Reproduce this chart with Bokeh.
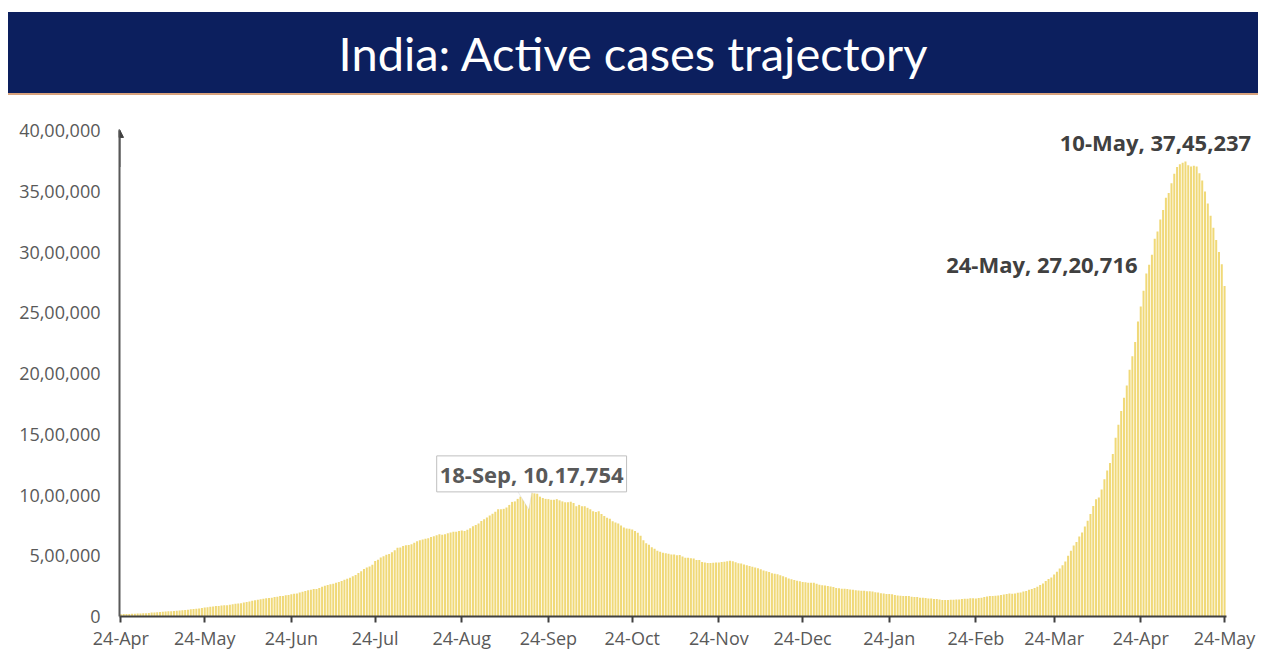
import pandas as pd
from bokeh.plotting import figure
from bokeh.models import (Label, FixedTicker, DatetimeTickFormatter, Range1d, Arrow,
                          NormalHead, PolyAnnotation, ColumnDataSource, Spacer, Div)
from bokeh.layouts import column
from bokeh.embed import file_html
from bokeh.resources import INLINE

# ---------------- data (active cases, in thousands) ----------------
apr_2020 = [18.7, 20.2, 20.8, 21.1, 22.0, 22.6, 23.7]
may_2020 = [25.0, 26.5, 27.6, 29.5, 32.1, 33.6, 35.9, 37.9, 39.8, 41.5, 43.0, 44.0, 46.0, 47.5, 49.2, 51.4,
            53.0, 56.3, 58.8, 61.1, 63.6, 66.3, 69.6, 73.6, 77.1, 80.7, 83.0, 86.1, 86.4, 89.9, 91.8]
jun_2020 = [93.3, 97.6, 101.5, 104.1, 106.7, 110.0, 115.9, 120.4, 124.0, 129.9, 133.6, 137.4, 141.8, 145.8,
            149.3, 153.1, 155.2, 160.4, 163.2, 168.3, 169.5, 174.4, 178.0, 183.0, 186.5, 189.5, 197.4, 203.1,
            210.1, 215.1]
jul_2020 = [220.1, 226.9, 227.4, 235.4, 244.8, 253.3, 259.6, 264.9, 269.8, 276.9, 283.4, 292.3, 301.6, 311.6,
            319.8, 331.1, 342.5, 358.7, 373.4, 390.5, 402.5, 411.1, 426.2, 456.1, 467.9, 485.1, 496.9, 509.4,
            514.2, 528.2, 545.3]
aug_2020 = [565.1, 567.7, 579.4, 586.3, 587.7, 595.5, 607.4, 619.1, 628.7, 634.9, 639.9, 643.9, 653.6, 661.6,
            668.2, 676.9, 673.2, 676.5, 686.4, 692.0, 697.3, 697.3, 704.3, 707.3, 704.3, 715.0, 725.9, 742.0,
            752.4, 765.3, 785.9]
sep_2020 = [801.3, 815.5, 831.1, 846.4, 862.3, 883.7, 882.5, 886.3, 897.4, 919.0, 943.5, 947.6, 968.4, 986.6,
            990.1, 995.9, 1009.9, 1017.754, 1013.9, 1010.8, 986.6, 975.9, 968.4, 966.4, 960.9, 960.9, 966.4,
            956.4, 947.6, 940.4]
oct_2020 = [940.7, 944.9, 934.4, 907.9, 919.0, 907.9, 907.9, 895.0, 883.2, 867.5, 860.6, 866.0, 844.3, 826.9,
            812.4, 804.5, 783.3, 774.6, 766.3, 748.5, 733.0, 725.4, 721.8, 715.8, 704.1, 690.2, 664.1, 627.1,
            603.1, 589.8, 570.5]
nov_2020 = [558.1, 541.4, 533.8, 525.2, 520.3, 516.6, 510.7, 509.7, 503.8, 505.3, 494.7, 484.5, 483.0, 479.2,
            477.6, 465.5, 465.5, 448.1, 445.0, 439.7, 440.9, 443.3, 444.7, 443.8, 447.8, 451.0, 454.9, 459.0,
            455.5, 445.7]
dec_2020 = [438.7, 435.6, 428.6, 422.9, 416.1, 410.1, 403.2, 396.7, 389.0, 378.9, 372.3, 365.4, 356.5, 352.6,
            347.6, 339.8, 332.0, 322.4, 313.8, 307.0, 300.0, 293.9, 289.2, 283.8, 281.9, 278.7, 277.3, 277.8,
            270.5, 262.3, 257.7]
jan_2021 = [254.3, 250.2, 247.2, 243.9, 235.6, 232.2, 228.1, 228.1, 225.4, 222.5, 220.7, 216.6, 214.5, 213.0,
            211.0, 208.8, 208.0, 206.8, 200.5, 197.2, 190.7, 188.7, 185.6, 184.4, 184.2, 177.3, 173.7, 171.7,
            169.8, 168.2, 168.2]
feb_2021 = [163.4, 160.1, 160.1, 155.0, 154.9, 151.5, 148.6, 148.6, 143.6, 143.1, 140.9, 135.9, 136.5, 136.5,
            137.6, 138.6, 139.5, 139.5, 143.1, 145.6, 145.6, 150.1, 150.1, 147.3, 151.7, 155.0, 159.6, 164.5]
mar_2021 = [168.4, 168.2, 170.1, 173.4, 176.3, 180.3, 184.6, 188.7, 187.5, 189.2, 195.2, 196.6, 206.0, 210.5,
            219.3, 226.2, 234.4, 245.4, 260.0, 271.3, 292.3, 309.1, 321.2, 345.4, 368.5, 395.2, 421.1, 452.6,
            501.0, 540.7, 584.1]
apr_2021 = [614.0, 658.9, 691.6, 740.7, 788.2, 843.5, 910.3, 964.8, 979.6, 1046.6, 1129.9, 1201.0, 1264.7,
            1338.8, 1471.9, 1579.0, 1692.6, 1801.3, 1901.9, 2031.0, 2143.0, 2260.0, 2428.6, 2552.9, 2682.7,
            2823.0, 2896.8, 2978.7, 3110.0, 3170.2]
may_2021 = [3268.7, 3347.2, 3447.1, 3487.2, 3566.4, 3645.2, 3699.8, 3723.4, 3736.6, 3745.237, 3715.2, 3704.1,
            3710.5, 3704.0, 3650.0, 3590.0, 3500.0, 3400.0, 3300.0, 3200.0, 3100.0, 3000.0, 2900.0, 2720.716]

first_day = "2020-04-24"
last_day = "2021-05-24"

tick_dates = ["2020-04-24", "2020-05-24", "2020-06-24", "2020-07-24", "2020-08-24", "2020-09-24",
              "2020-10-24", "2020-11-24", "2020-12-24", "2021-01-24", "2021-02-24", "2021-03-24",
              "2021-04-24", "2021-05-24"]
y_ticks = [0, 500000, 1000000, 1500000, 2000000, 2500000, 3000000, 3500000, 4000000]
y_tick_labels = ["0", "5,00,000", "10,00,000", "15,00,000", "20,00,000", "25,00,000", "30,00,000",
                 "35,00,000", "40,00,000"]

ann1_date, ann1_value, ann1_text = "2020-09-18", 1017754, "18-Sep, 10,17,754"
ann2_date, ann2_value, ann2_text = "2021-05-10", 3745237, "10-May, 37,45,237"
ann3_date, ann3_value, ann3_text = "2021-05-24", 2720716, "24-May, 27,20,716"

title_text = "India: Active cases trajectory"

# ---------------- build ----------------
months = [apr_2020, may_2020, jun_2020, jul_2020, aug_2020, sep_2020, oct_2020, nov_2020,
          dec_2020, jan_2021, feb_2021, mar_2021, apr_2021, may_2021]
active = [round(v * 1000) for m in months for v in m]
dates = pd.date_range(first_day, last_day, freq="D")
assert len(dates) == len(active)

DAY = 86400000.0
def ms(d):
    return pd.Timestamp(d).value / 1e6

src = ColumnDataSource(dict(date=dates, active=active))

x0 = ms(first_day) - 0.5 * DAY
x_axis_end = ms(last_day) + 0.6 * DAY
x1 = x0 + 408 * DAY          # extra room on the right so labels are not clipped

NAVY = "#0C1F5E"
BAR = "#F0D978"
AXIS = "#404040"
LABEL = "#595959"
FONT = "Open Sans"

title = Div(text=(
    '<div style="margin-left:8px;width:1250px;height:83px;background:%s;color:#ffffff;'
    'font-family:Lato;font-size:47px;line-height:83px;text-align:center;'
    'border-bottom:2px solid #D8A27C;white-space:nowrap;">%s</div>') % (NAVY, title_text),
    width=1262, height=85, margin=0)

# main chart
p = figure(width=1262, height=555, toolbar_location=None, output_backend="svg",
           x_axis_type="datetime", x_range=Range1d(x0, x1), y_range=Range1d(0, 4100000),
           min_border_left=119, min_border_right=3, min_border_top=21, min_border_bottom=36,
           background_fill_color="white", border_fill_color="white", outline_line_color=None,
           margin=0)
p.grid.visible = False

p.vbar(x="date", top="active", width=0.72 * DAY, source=src, fill_color=BAR, line_color=None)

# x axis
p.xaxis.ticker = FixedTicker(ticks=[ms(d) for d in tick_dates])
p.xaxis.formatter = DatetimeTickFormatter(days="%d-%b", months="%d-%b", years="%d-%b",
                                          hours="%d-%b", minutes="%d-%b", seconds="%d-%b",
                                          milliseconds="%d-%b", microseconds="%d-%b")
p.xaxis.bounds = (x0, x_axis_end)
p.xaxis.axis_line_color = AXIS
p.xaxis.axis_line_width = 2
p.xaxis.major_tick_line_color = AXIS
p.xaxis.major_tick_line_width = 2
p.xaxis.major_tick_out = 6
p.xaxis.major_tick_in = 0
p.xaxis.minor_tick_line_color = None
p.xaxis.major_label_standoff = 3
p.xaxis.major_label_text_font = FONT
p.xaxis.major_label_text_font_size = "18px"
p.xaxis.major_label_text_color = LABEL

# y axis
p.yaxis.ticker = FixedTicker(ticks=y_ticks)
p.yaxis.major_label_overrides = {t: l for t, l in zip(y_ticks, y_tick_labels)}
p.yaxis.bounds = (0, 4000000)
p.yaxis.axis_line_color = "#595959"
p.yaxis.axis_line_width = 2
p.yaxis.major_tick_line_color = None
p.yaxis.minor_tick_line_color = None
p.yaxis.major_tick_out = 0
p.yaxis.major_tick_in = 0
p.yaxis.major_label_standoff = 19
p.yaxis.major_label_text_font = FONT
p.yaxis.major_label_text_font_size = "18px"
p.yaxis.major_label_text_color = LABEL

p.add_layout(Arrow(end=NormalHead(size=8, fill_color=AXIS, line_color=AXIS),
                   x_start=x0, y_start=3700000, x_end=x0, y_end=4010000,
                   line_color="#595959", line_width=2))

# callout for first peak
a1 = ms(ann1_date)
p.add_layout(PolyAnnotation(xs=[a1 - 5.5 * DAY, a1 - 1.0 * DAY, a1 + 0.3 * DAY],
                            ys=[1050000, 880000, 1050000],
                            fill_color="white", fill_alpha=1, line_color="#BFBFBF", line_width=1))
p.add_layout(Label(x=a1, y=ann1_value, y_offset=19, text=ann1_text, text_align="center",
                   text_baseline="middle", text_font=FONT, text_font_style="bold",
                   text_font_size="22px", text_color=LABEL, background_fill_color="white",
                   border_line_color="#BFBFBF", border_line_width=1, padding=3))

p.add_layout(Label(x=ms(ann2_date), y=ann2_value, x_offset=-30, y_offset=20, text=ann2_text,
                   text_align="center", text_baseline="middle", text_font=FONT,
                   text_font_style="bold", text_font_size="22px", text_color=AXIS))
p.add_layout(Label(x=ms(ann3_date), y=ann3_value, x_offset=-87, y_offset=22, text=ann3_text,
                   text_align="right", text_baseline="middle", text_font=FONT,
                   text_font_style="bold", text_font_size="22px", text_color=AXIS))

layout = column(Spacer(width=1262, height=12, margin=0), title, p)
open("out.html", "w").write(file_html(layout, INLINE))
